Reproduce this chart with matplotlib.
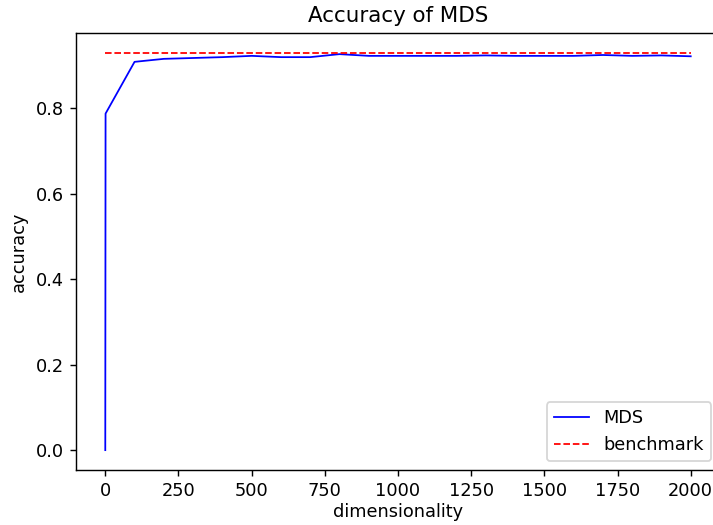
import numpy as np
import matplotlib.pyplot as plt

dims = [0, 1, 100, 200, 300, 400, 500, 600, 700, 800, 900, 1000, 1100, 1200, 1300,
        1400, 1500, 1600, 1700, 1800, 1900, 2000]
acc = [0.0, 0.787, 0.908, 0.915, 0.917, 0.919, 0.922, 0.919, 0.919, 0.926, 0.922, 0.922,
       0.922, 0.922, 0.923, 0.922, 0.922, 0.922, 0.924, 0.922, 0.923, 0.921]
benchmark = 0.929

dpi = 128
fig = plt.figure(figsize=(713 / dpi, 525 / dpi), dpi=dpi)
# the original picture was cut off on the right, so the axes run past the edge
ax = fig.add_axes([76 / 713, 55 / 525, 644 / 713, 437 / 525])
ax.plot(dims, acc, color='blue', linewidth=1, label='MDS')
ax.plot([dims[0], dims[-1]], [benchmark, benchmark], 'r--', linewidth=1, label='benchmark')
ax.set_title('Accuracy of MDS')
ax.set_xlabel('dimensionality', labelpad=1.5)
ax.set_ylabel('accuracy')
ax.legend(loc='lower right')
fig.savefig('out.png', dpi=dpi)
